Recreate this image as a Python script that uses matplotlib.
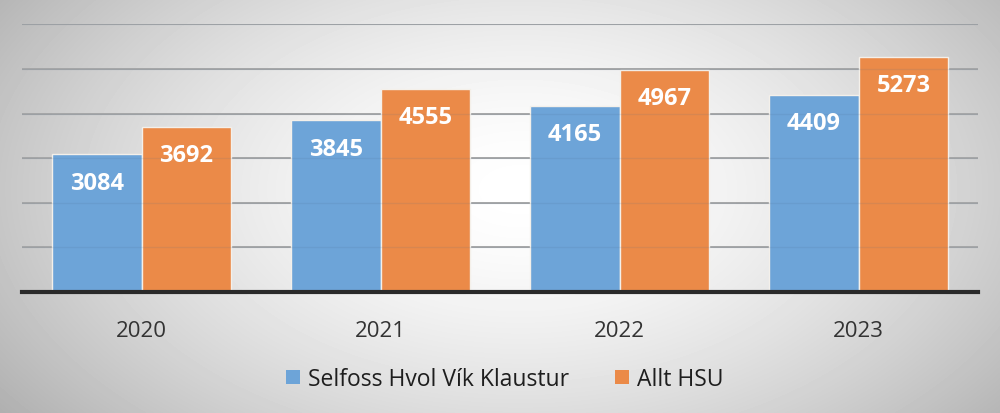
import numpy as np
import matplotlib
matplotlib.use("Agg")
import matplotlib.pyplot as plt
from matplotlib.patches import Patch

plt.rcParams['font.family'] = ['Open Sans', 'DejaVu Sans']

years = ["2020", "2021", "2022", "2023"]
selfoss = [3084, 3845, 4165, 4409]
allt_hsu = [3692, 4555, 4967, 5273]
series_names = ["Selfoss Hvol Vík Klaustur", "Allt HSU"]

blue = "#6da4d8"
orange = "#eb8a48"

fig = plt.figure(figsize=(10, 4.14), dpi=100)

# radial gradient background
bg = fig.add_axes([0, 0, 1, 1], zorder=0)
yy, xx = np.mgrid[0:414, 0:1000]
r = np.sqrt(((xx - 520) / 560.0) ** 2 + ((yy - 190) / 330.0) ** 2)
shade = np.clip(1.0 - 0.25 * r ** 1.6, 0, 1)
bg.imshow(shade, cmap="gray", vmin=0, vmax=1, aspect="auto")
bg.axis("off")

ax = fig.add_axes([0.022, 0.292, 0.956, 0.647], zorder=1)
ax.patch.set_alpha(0)

x = np.arange(len(years))
w = 0.376
b1 = ax.bar(x - w / 2, selfoss, w, color=blue, edgecolor="#f4f0ea", linewidth=1.0, zorder=3)
b2 = ax.bar(x + w / 2, allt_hsu, w, color=orange, edgecolor="#f4f0ea", linewidth=1.0, zorder=3)

for bars, vals in ((b1, selfoss), (b2, allt_hsu)):
    for rect, v in zip(bars, vals):
        ax.text(rect.get_x() + rect.get_width() / 2, v - 630, str(v),
                ha="center", va="center", color="white", fontsize=17,
                fontweight="bold", zorder=4)

# faint grid showing through the bars
for gy in range(1000, 6001, 1000):
    ax.axhline(gy, color="#4a6a8a", linewidth=1.0, alpha=0.12, zorder=3.5)

ax.set_xlim(-0.5, 3.5)
ax.set_ylim(0, 6000)
ax.set_yticks(np.arange(1000, 6001, 1000))
ax.yaxis.grid(True, color="#a8a8a8", linewidth=1.4, zorder=1)
ax.set_axisbelow(True)
ax.tick_params(axis="y", left=False, labelleft=False)
ax.set_xticks(x)
ax.set_xticklabels(years, fontsize=16, color="#333333")
ax.tick_params(axis="x", length=0, pad=20)
for s in ["top", "right", "left"]:
    ax.spines[s].set_visible(False)
ax.spines["bottom"].set_color("#2a2a2a")
ax.spines["bottom"].set_linewidth(3)
ax.spines["bottom"].set_zorder(5)

handles = [Patch(facecolor=blue, edgecolor="none"), Patch(facecolor=orange, edgecolor="none")]
fig.legend(handles, series_names, loc="center", bbox_to_anchor=(0.505, 0.082), ncol=2,
           frameon=False, fontsize=16.5, handlelength=0.62, handleheight=0.62,
           handletextpad=0.35, columnspacing=2.0, labelcolor="#1e1e1e")

fig.savefig("out.png", dpi=100)
